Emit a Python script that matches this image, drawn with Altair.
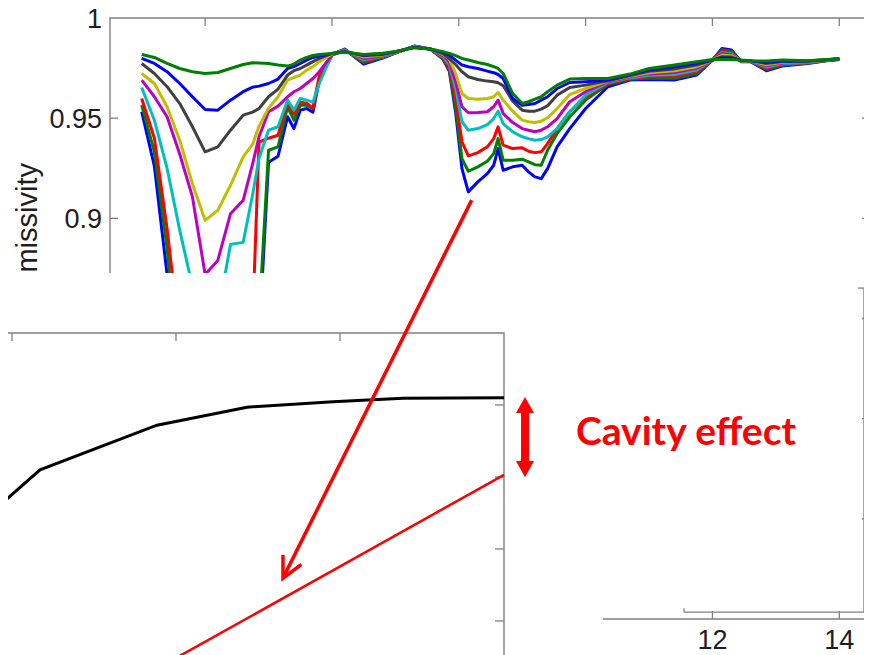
import altair as alt
import pandas as pd

# ---------------- data: upper spectra chart ----------------
wavelength = [3.0, 3.2, 3.4, 3.6, 3.8, 4.0, 4.2, 4.4, 4.6, 4.75, 4.85, 5.0, 5.15, 5.3, 5.4, 5.5, 5.6, 5.7, 5.8, 6.0,
              6.2, 6.5, 6.8, 7.0, 7.3,
              7.55, 7.75, 7.85, 7.95, 8.05, 8.15, 8.3, 8.45, 8.55, 8.62, 8.7, 8.85, 9.0, 9.1, 9.2, 9.3, 9.4, 9.55, 9.75, 10.0, 10.35,
              10.7, 11.0, 11.4, 11.75, 12.0, 12.15, 12.3, 12.45, 12.6, 12.85, 13.1, 13.5, 13.8, 14.0]

s1 = [.9532, .926, .872, .80, .77, .76, .76, .77, .78, .80, .84, .928, .931, .9507, .9448, .954, .9548, .953, .969, .9815,
      .9845, .977, .980, .9825, .986,
      .9845, .9795, .9735, .953, .9248, .9132, .9182, .9223, .9265, .9348, .924, .9257, .9265, .9232, .9207, .9198, .9248, .9357, .9448, .9548, .9657,
      .969, .9693, .969, .9715, .979, .9848, .984, .9782, .9782, .9737, .976, .9773, .9787, .9793]
s2 = [.9565, .933, .885, .82, .79, .78, .78, .79, .80, .82, .85, .934, .9357, .9557, .949, .9565, .9565, .9548, .9698, .982,
      .9843, .9777, .9803, .9826, .9859,
      .9845, .9798, .9743, .9557, .9298, .9235, .9257, .9285, .9323, .9398, .929, .929, .9295, .9282, .9268, .9265, .934, .9423, .9507, .959, .9668,
      .9694, .970, .9699, .9723, .979, .9841, .9834, .9783, .9783, .9743, .9764, .9775, .9788, .9794]
s3 = [.9598, .940, .895, .84, .81, .80, .80, .81, .83, .85, .938, .940, .9415, .958, .952, .958, .9575, .955, .971, .982,
      .9841, .9784, .9806, .9827, .9858,
      .9845, .9802, .9752, .9598, .9382, .9312, .9328, .9357, .9398, .9457, .9365, .9348, .9352, .9335, .9328, .9332, .9373, .9448, .9532, .9607, .9673,
      .9698, .9707, .9709, .9732, .979, .9834, .9828, .9784, .9784, .9749, .9768, .9777, .9788, .9794]
s4 = [.9653, .949, .925, .894, .866, .85, .852, .887, .888, .912, .930, .944, .9457, .959, .954, .9598, .959, .958, .9673, .982,
      .9839, .9791, .9809, .9828, .9857,
      .9845, .9807, .9768, .9648, .9482, .944, .9448, .9468, .9498, .9535, .9473, .9432, .9407, .9398, .939, .9393, .9407, .9448, .9532, .9615, .9678,
      .9701, .9714, .9718, .974, .979, .9827, .9822, .9785, .9784, .9755, .9771, .9778, .9789, .9795]
s5 = [.969, .9607, .9507, .932, .9107, .872, .879, .9023, .909, .9273, .9407, .9532, .956, .9607, .9632, .9648, .9673, .9698, .9732, .9815,
      .9837, .9798, .9812, .9829, .9856,
      .9845, .9812, .9782, .9682, .9557, .9527, .9528, .9532, .9557, .959, .9523, .9478, .9448, .944, .9432, .944, .9457, .9498, .9582, .9632, .9682,
      .9705, .9721, .9728, .9749, .979, .9821, .9817, .9786, .9785, .9761, .9775, .978, .979, .9795]
s6 = [.9723, .9673, .9557, .939, .9173, .899, .904, .9165, .9307, .937, .946, .955, .9607, .969, .9703, .9715, .974, .9757, .9782, .982,
      .9835, .9805, .9815, .983, .9855,
      .9845, .9818, .9795, .9723, .9623, .9598, .9595, .9598, .9607, .9628, .959, .9535, .949, .9482, .9478, .9485, .9502, .9548, .9618, .9648, .9685,
      .9709, .9727, .9737, .9757, .979, .9814, .9811, .9787, .9786, .9767, .9779, .9782, .979, .9796]
s7 = [.9773, .9723, .9657, .9573, .9457, .9332, .9357, .944, .9515, .953, .9548, .9607, .9645, .9715, .9737, .9748, .9765, .9782, .9798, .9823,
      .9833, .9812, .9818, .9831, .9854,
      .9845, .9823, .9798, .9768, .9732, .9707, .9693, .9685, .9682, .9677, .9662, .9585, .954, .9535, .9535, .9545, .9562, .9615, .9653, .9665, .9687,
      .9713, .9734, .9746, .9765, .979, .9807, .9805, .9788, .9786, .9773, .9783, .9784, .9791, .9796]
s8 = [.9798, .9773, .9732, .9673, .9607, .9543, .954, .959, .9632, .9655, .966, .9673, .9695, .9748, .9757, .9773, .979, .9803, .981, .9823,
      .9831, .9815, .9821, .9832, .9853,
      .9845, .9828, .9815, .979, .9765, .9757, .9748, .9735, .9727, .9718, .9698, .9598, .9565, .9568, .9573, .959, .9607, .9648, .9678, .9682, .969,
      .9716, .9741, .9756, .9774, .979, .98, .9799, .9789, .9786, .9779, .9786, .9785, .9792, .9797]
s9 = [.9818, .9803, .9773, .9748, .9732, .9723, .9728, .9748, .9768, .9777, .9775, .9773, .9765, .976, .977, .979, .9803, .9813, .9818, .9823,
      .9829, .9818, .9824, .9833, .9852,
      .9845, .9832, .9823, .9812, .9798, .979, .9778, .9768, .9757, .9748, .9723, .9623, .9573, .9582, .9595, .9607, .9632, .9665, .9695, .9698, .9698,
      .972, .9748, .9765, .9782, .9793, .9793, .9793, .979, .9787, .9785, .979, .9787, .9793, .9797]

series_names = ["s1", "s2", "s3", "s4", "s5", "s6", "s7", "s8", "s9"]
series_values = [s1, s2, s3, s4, s5, s6, s7, s8, s9]
series_colors = ["#0000ff", "#008000", "#ff0000", "#00bfbf", "#bf00bf", "#bfbf00", "#404040", "#0000ff", "#008000"]

top_x_ticks = [4, 6, 8, 10, 12, 14]
top_x_labels = ["4", "6", "8", "10", "12", "14"]
top_y_ticks = [0.95, 0.9, 0.85, 0.8, 0.75]
top_y_label_vals = [1.0, 0.95, 0.9, 0.85, 0.8, 0.75, 0.7]
top_y_labels = ["1", "0.95", "0.9", "0.85", "0.8", "0.75", "0.7"]
top_y_title = "Emissivity"

# ---------------- data: lower inset chart ----------------
inset_x = [0.927, 1.171, 1.884, 2.433, 2.957, 3.384, 4.0]
inset_black = [0.761, 0.810, 0.872, 0.897, 0.9046, 0.9093, 0.9102]
inset_red_x = [2.0, 4.0]
inset_red = [0.5486, 0.803]
inset_x_ticks = [1, 2, 3]
inset_y_ticks = [0.9, 0.8, 0.7, 0.6]
annotation_text = "Cavity effect"

# ---------------- layout (scales in px of the canvas) ----------------
W, H = 856, 647
TOP_XD, TOP_YD = [2.5, 14.5], [0.7, 1.0]
TOP_XR, TOP_YR = [102, 863], [611, 10]
INS_XD, INS_YD = [1.0, 4.0], [0.5, 1.0]
INS_XR, INS_YR = [4, 496], [685, 325]
GRAY = "#808080"
RED = "#ff0000"
TXT = "#1e1e1e"


def tx(field, **kw):
    return alt.X(field, type="quantitative", axis=None,
                 scale=alt.Scale(domain=TOP_XD, range=TOP_XR, zero=False, nice=False), **kw)


def ty(field, **kw):
    return alt.Y(field, type="quantitative", axis=None,
                 scale=alt.Scale(domain=TOP_YD, range=TOP_YR, zero=False, nice=False), **kw)


def ix(field, **kw):
    return alt.X(field, type="quantitative", axis=None,
                 scale=alt.Scale(domain=INS_XD, range=INS_XR, zero=False, nice=False), **kw)


def iy(field, **kw):
    return alt.Y(field, type="quantitative", axis=None,
                 scale=alt.Scale(domain=INS_YD, range=INS_YR, zero=False, nice=False), **kw)


# ---- upper chart ----
spec_rows = []
for name, vals in zip(series_names, series_values):
    for w, v in zip(wavelength, vals):
        spec_rows.append({"wl": w, "em": v, "series": name})
spec_df = pd.DataFrame(spec_rows)

frame_df = pd.DataFrame([{"x0": TOP_XD[0], "x1": TOP_XD[1], "y0": TOP_YD[0], "y1": TOP_YD[1]}])
frame = alt.Chart(frame_df).mark_rect(fill="transparent", stroke=GRAY, strokeWidth=1.4).encode(
    x=tx("x0"), x2="x1", y=ty("y0"), y2="y1")

lines = alt.Chart(spec_df).mark_line(strokeWidth=3, strokeJoin="round").encode(
    x=tx("wl"), y=ty("em"),
    color=alt.Color("series:N", scale=alt.Scale(domain=series_names, range=series_colors), legend=None),
    order=alt.Order("wl:Q"))

tick_style = dict(filled=False, stroke=GRAY, strokeWidth=1.3, opacity=1)
left_ticks = alt.Chart(pd.DataFrame({"x": [TOP_XD[0]] * len(top_y_ticks), "y": top_y_ticks})).mark_point(
    shape="M0,0L1,0", size=256, **tick_style).encode(x=tx("x"), y=ty("y"))
right_ticks = alt.Chart(pd.DataFrame({"x": [TOP_XD[1]] * len(top_y_ticks), "y": top_y_ticks})).mark_point(
    shape="M0,0L-1,0", size=324, **tick_style).encode(x=tx("x"), y=ty("y"))
top_ticks = alt.Chart(pd.DataFrame({"x": top_x_ticks, "y": [TOP_YD[1]] * len(top_x_ticks)})).mark_point(
    shape="M0,0L0,1", size=256, **tick_style).encode(x=tx("x"), y=ty("y"))
bottom_ticks = alt.Chart(pd.DataFrame({"x": top_x_ticks, "y": [TOP_YD[0]] * len(top_x_ticks)})).mark_point(
    shape="M0,0L0,-1", size=256, **tick_style).encode(x=tx("x"), y=ty("y"))

ylab = alt.Chart(pd.DataFrame({"x": [TOP_XD[0]] * len(top_y_labels), "y": top_y_label_vals, "t": top_y_labels})).mark_text(
    align="right", baseline="middle", dx=-8, dy=2, fontSize=27, font="Liberation Sans", color=TXT).encode(
    x=tx("x"), y=ty("y"), text="t:N")
xlab = alt.Chart(pd.DataFrame({"x": top_x_ticks, "y": [TOP_YD[0]] * len(top_x_ticks), "t": top_x_labels})).mark_text(
    align="center", baseline="middle", dy=22, fontSize=27, font="Liberation Sans", color=TXT).encode(
    x=tx("x"), y=ty("y"), text="t:N")
ytitle = alt.Chart(pd.DataFrame({"x": [1.349], "y": [0.9276], "t": [top_y_title]})).mark_text(
    align="right", baseline="alphabetic", angle=270, fontSize=29, font="Liberation Sans", color=TXT).encode(
    x=tx("x"), y=ty("y"), text="t:N")

# stray frame of the pasted panel (lower right)
stray_df = pd.DataFrame({
    "x0": [14.389, 14.294, 11.551, 11.551],
    "x1": [14.389, 14.389, 14.389, 11.551],
    "y0": [0.7034, 0.8652, 0.7034, 0.7034],
    "y1": [0.8652, 0.8652, 0.7034, 0.7054],
})
stray = alt.Chart(stray_df).mark_rule(color=GRAY, strokeWidth=1.3).encode(
    x=tx("x0"), x2="x1", y=ty("y0"), y2="y1")

cover_df = pd.DataFrame([{"x0": 0.5, "x1": 10.274, "y0": 0.55, "y1": 0.8727}])
cover = alt.Chart(cover_df).mark_rect(color="white").encode(x=tx("x0"), x2="x1", y=ty("y0"), y2="y1")

top = alt.layer(frame, lines, left_ticks, right_ticks, top_ticks, bottom_ticks, ylab, xlab, ytitle, stray, cover)

# ---- lower inset chart ----
iframe_df = pd.DataFrame([{"x0": 0.8, "x1": INS_XD[1], "y0": INS_YD[0], "y1": INS_YD[1]}])
iframe = alt.Chart(iframe_df).mark_rect(fill="transparent", stroke=GRAY, strokeWidth=1.4).encode(
    x=ix("x0"), x2="x1", y=iy("y0"), y2="y1")
itop_ticks = alt.Chart(pd.DataFrame({"x": inset_x_ticks, "y": [INS_YD[1]] * len(inset_x_ticks)})).mark_point(
    shape="M0,0L0,1", size=256, **tick_style).encode(x=ix("x"), y=iy("y"))
iright_ticks = alt.Chart(pd.DataFrame({"x": [INS_XD[1]] * len(inset_y_ticks), "y": inset_y_ticks})).mark_point(
    shape="M0,0L-1,0", size=324, **tick_style).encode(x=ix("x"), y=iy("y"))
black = alt.Chart(pd.DataFrame({"x": inset_x, "y": inset_black})).mark_line(color="black", strokeWidth=3).encode(
    x=ix("x"), y=iy("y"))
redline = alt.Chart(pd.DataFrame({"x": inset_red_x, "y": inset_red})).mark_line(color=RED, strokeWidth=2.5).encode(
    x=ix("x"), y=iy("y"))

# double arrow between the two curve ends
arr_x = 4.128
shaft = alt.Chart(pd.DataFrame([{"x": arr_x, "y0": 0.9, "y1": 0.811}])).mark_rule(color=RED, strokeWidth=8).encode(
    x=ix("x"), y=iy("y0"), y2="y1")
head_up = alt.Chart(pd.DataFrame({"x": [arr_x], "y": [0.9]})).mark_point(
    shape="M-1,0.9L0,-0.9L1,0.9Z", size=324, filled=True, color=RED, opacity=1).encode(x=ix("x"), y=iy("y"))
head_dn = alt.Chart(pd.DataFrame({"x": [arr_x], "y": [0.811]})).mark_point(
    shape="M-1,-0.9L0,0.9L1,-0.9Z", size=324, filled=True, color=RED, opacity=1).encode(x=ix("x"), y=iy("y"))
label = alt.Chart(pd.DataFrame({"x": [4.439], "y": [0.8444], "t": [annotation_text]})).mark_text(
    align="left", baseline="alphabetic", fontSize=39, fontWeight="bold", font="Lato", color=RED).encode(
    x=ix("x"), y=iy("y"), text="t:N")

bottom = alt.layer(iframe, itop_ticks, iright_ticks, black, redline, shaft, head_up, head_dn, label)

# ---- long arrow from the upper spectra into the inset ----
arrow_df = pd.DataFrame([{"x0": 8.203, "y0": 0.9091, "x1": 5.228, "y1": 0.7204}])
arrow_line = alt.Chart(arrow_df).mark_rule(color=RED, strokeWidth=3.5).encode(
    x=tx("x0"), y=ty("y0"), x2="x1", y2="y1")
arrow_head = alt.Chart(arrow_df).mark_point(
    shape="M-0.5,-1L0,0L0.5,-1", size=1700, filled=False, stroke=RED, strokeWidth=3.5, angle=26.5, opacity=1).encode(
    x=tx("x1"), y=ty("y1"))
arrow = alt.layer(arrow_line, arrow_head)

chart = alt.layer(top, bottom, arrow).resolve_scale(x="independent", y="independent").properties(
    width=W, height=H, padding=0, autosize=alt.AutoSizeParams(type="none"),
    background="white").configure_view(strokeWidth=0)

chart.save("out.html", embed_options={"renderer": "svg", "actions": False})
